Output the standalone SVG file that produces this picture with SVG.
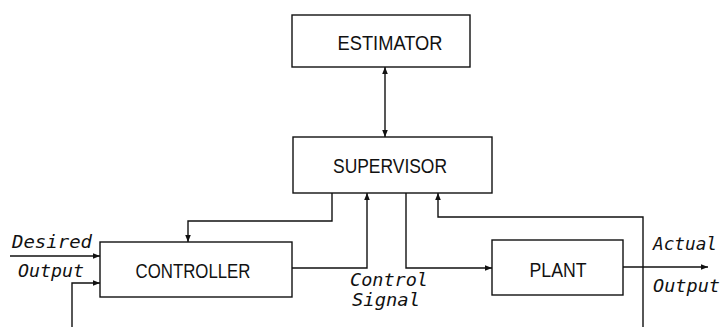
<svg xmlns="http://www.w3.org/2000/svg" width="724" height="327" viewBox="0 0 724 327">
<style>
.box{fill:#fff;stroke:#111;stroke-width:1.4}
.lbl{font-family:"Liberation Sans","DejaVu Sans",sans-serif;font-size:20px;fill:#111;text-anchor:middle}
.ann{font-family:"DejaVu Sans Mono","Liberation Mono",monospace;font-style:italic;font-size:17px;fill:#111}
.wire{fill:none;stroke:#111;stroke-width:1.4}
</style>
<defs>
<marker id="ah" viewBox="0 0 10 10" refX="10" refY="5" markerWidth="7" markerHeight="7" markerUnits="userSpaceOnUse" orient="auto-start-reverse">
<path d="M0,1 L10,5 L0,9 Z" fill="#111"/>
</marker>
</defs>
<g id="estimator">
<rect class="box" x="292" y="15" width="178" height="52"/>
<text class="lbl" x="390" y="50" textLength="105" lengthAdjust="spacingAndGlyphs">ESTIMATOR</text>
</g>
<g id="supervisor">
<rect class="box" x="293" y="137" width="199" height="56"/>
<text class="lbl" x="390" y="173" textLength="114" lengthAdjust="spacingAndGlyphs">SUPERVISOR</text>
</g>
<g id="controller">
<rect class="box" x="100" y="242" width="192" height="55"/>
<text class="lbl" x="193" y="278" textLength="115" lengthAdjust="spacingAndGlyphs">CONTROLLER</text>
</g>
<g id="plant">
<rect class="box" x="492" y="240" width="131" height="55"/>
<text class="lbl" x="558" y="277" textLength="57" lengthAdjust="spacingAndGlyphs">PLANT</text>
</g>
<g id="connectors">
<path class="wire" d="M385,67 L385,137" marker-start="url(#ah)" marker-end="url(#ah)"/>
<path class="wire" d="M332,193 L332,221 L188,221 L188,242" marker-end="url(#ah)"/>
<path class="wire" d="M292,268 L367,268 L367,193" marker-end="url(#ah)"/>
<path class="wire" d="M406,193 L406,268 L492,268" marker-end="url(#ah)"/>
<path class="wire" d="M643,327 L643,217 L438,217 L438,193" marker-end="url(#ah)"/>
<path class="wire" d="M623,267 L708,267" marker-end="url(#ah)"/>
<path class="wire" d="M10,256 L100,256" marker-end="url(#ah)"/>
<path class="wire" d="M72,327 L72,283 L100,283" marker-end="url(#ah)"/>
</g>
<g id="labels">
<text class="ann" x="12" y="248" textLength="80" lengthAdjust="spacingAndGlyphs">Desired</text>
<text class="ann" x="18" y="277" textLength="66" lengthAdjust="spacingAndGlyphs">Output</text>
<text class="ann" x="350" y="286" textLength="78" lengthAdjust="spacingAndGlyphs">Control</text>
<text class="ann" x="352" y="306" textLength="68" lengthAdjust="spacingAndGlyphs">Signal</text>
<text class="ann" x="653" y="250" textLength="64" lengthAdjust="spacingAndGlyphs">Actual</text>
<text class="ann" x="653" y="292" textLength="67" lengthAdjust="spacingAndGlyphs">Output</text>
</g>
</svg>
